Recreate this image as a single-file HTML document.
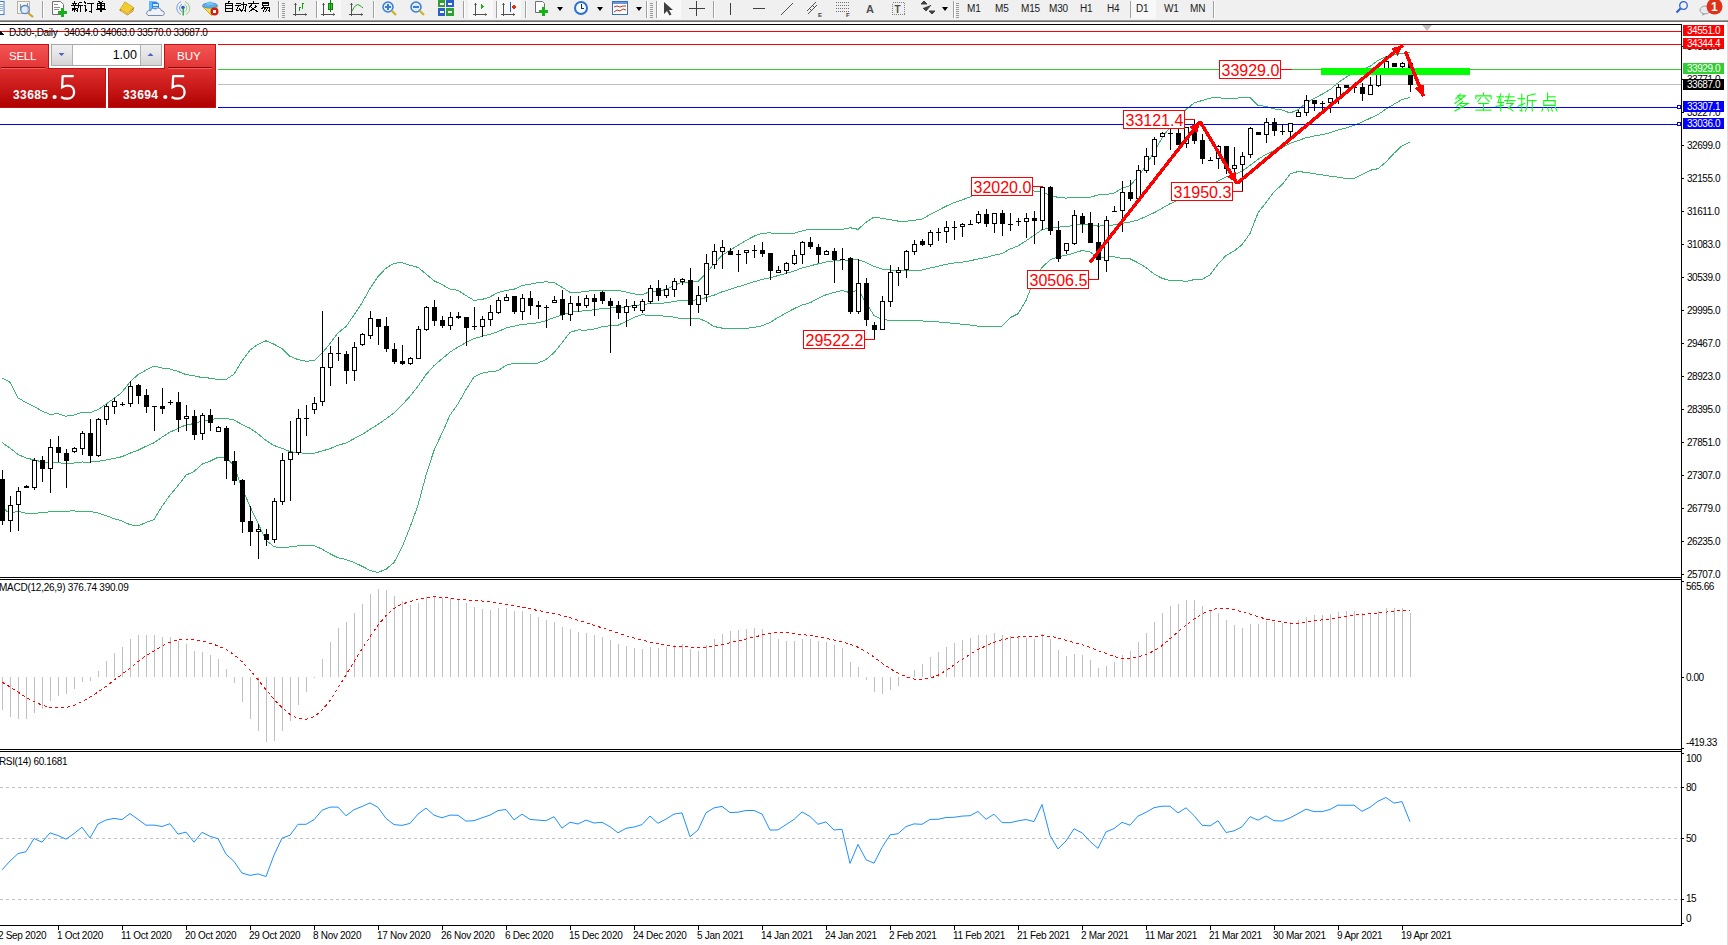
<!DOCTYPE html>
<html><head><meta charset="utf-8"><title>DJ30 Daily</title>
<style>
html,body{margin:0;padding:0;background:#fff;}
body{width:1728px;height:945px;overflow:hidden;position:relative;font-family:"Liberation Sans", sans-serif;}
svg{position:absolute;left:0;top:0;}
.t{font-family:"Liberation Sans", sans-serif;}
</style></head><body>
<svg width="1728" height="945" viewBox="0 0 1728 945" shape-rendering="crispEdges">

<rect x="0" y="0" width="1728" height="20" fill="#f0f0f0"/>
<rect x="0" y="20" width="1728" height="1" fill="#9a9a9a"/>
<rect x="0" y="21" width="1728" height="1" fill="#6e6e6e"/>
<rect x="-3" y="1.5" width="7" height="13" fill="#fff" stroke="#3a7bd5" stroke-width="1" shape-rendering="auto"/><g fill="#8fb0e8"><rect x="0" y="4" width="3" height="1"/><rect x="0" y="6" width="3" height="1"/><rect x="0" y="8" width="3" height="1"/><rect x="0" y="10" width="3" height="1"/></g><rect x="17.5" y="1.5" width="12" height="12" fill="#f4f4f0" stroke="#b8b0a0" shape-rendering="auto"/><path d="M20 4v7M27 3v8M21 6h6" stroke="#909090" fill="none"/><circle cx="25" cy="9.5" r="4.2" fill="#d8e8f8" fill-opacity="0.7" stroke="#5a8ad8" stroke-width="1.2" shape-rendering="auto"/><path d="M28 13l5 4" stroke="#d0a020" stroke-width="2.2" shape-rendering="auto"/><rect x="42" y="1" width="1" height="17" fill="#a0a0a0"/><rect x="43" y="1" width="1" height="17" fill="#ffffff"/><path d="M52.5 1.5h8l3 3v10h-11z" fill="#fff" stroke="#707070" shape-rendering="auto"/><g fill="#909090"><rect x="54" y="4" width="4" height="1"/><rect x="54" y="7" width="6" height="1"/><rect x="54" y="9" width="5" height="1"/></g><path d="M58 12h9M62.5 8v9" stroke="#18b018" stroke-width="3"/><g fill="none" stroke="#000" stroke-width="1.82" stroke-linecap="square" stroke-linejoin="miter" shape-rendering="crispEdges"><g transform="translate(71.50,1.50) scale(0.550)"><polyline points="5,0 5,2"/><polyline points="1,3 9,3"/><polyline points="3,4 4,7"/><polyline points="7,4 6,7"/><polyline points="0,8 10,8"/><polyline points="1,12 9,12"/><polyline points="5,8 5,19"/><polyline points="4,13 1,17"/><polyline points="6,13 9,16"/><polyline points="19,1 12,3 12,11 11,19"/><polyline points="12,8 20,8"/><polyline points="16,8 16,19"/></g><g transform="translate(83.50,1.50) scale(0.550)"><polyline points="2,1 4,3"/><polyline points="1,7 4,7 4,17 6,15"/><polyline points="8,3 19,3"/><polyline points="14,3 14,19 12,18"/></g><g transform="translate(95.50,1.50) scale(0.550)"><polyline points="6,0 8,2"/><polyline points="13,0 11,2"/><polyline points="4,4 16,4 16,12 4,12 4,4"/><polyline points="4,8 16,8"/><polyline points="10,4 10,19"/><polyline points="1,15 19,15"/></g></g><path d="M119.5 9.5L125 1.5 134 7.5 133.5 11 127.5 15.5 119.5 10.5z" fill="#b88018" shape-rendering="auto"/><path d="M120 9L125.2 2 133.5 7.6 127.8 13.5z" fill="#f0cc30" shape-rendering="auto"/><path d="M121 10.5l6.5 3.8 6-4.6" stroke="#f8e8a0" stroke-width="0.8" fill="none" shape-rendering="auto"/><path d="M149 1.5h7l3 2v7h-10z" fill="#2a8ae8" shape-rendering="auto"/><rect x="149" y="1" width="3" height="9" fill="#60b8ff"/><rect x="153" y="4" width="5" height="1.5" fill="#d8ecff"/><rect x="153" y="6.5" width="5" height="1" fill="#a8d0ff"/><path d="M148 15.5h14.5a2.3 2.3 0 0 0 -1-4.5a3.5 3.5 0 0 0 -6.2-1.8a2.6 2.6 0 0 0 -4.6 1.6a2.4 2.4 0 0 0 -2.7 4.7z" fill="#eef2fa" stroke="#6a7ca0" stroke-width="0.9" shape-rendering="auto"/><path d="M181 1.6A7 7 0 0 0 181 14.4M182 4.2A4.2 4.2 0 0 0 182 11.8" stroke="#7aa0e0" stroke-width="1" fill="none" shape-rendering="auto"/><path d="M185 1.6A7 7 0 0 1 186 14.4M184.5 4.2A4.2 4.2 0 0 1 184.5 11.8" stroke="#90c890" stroke-width="1" fill="none" shape-rendering="auto"/><circle cx="183" cy="7.5" r="1.8" fill="#2a5ad0" shape-rendering="auto"/><path d="M183.2 8v7.5" stroke="#20a020" stroke-width="1.3" fill="none" shape-rendering="auto"/><path d="M202.5 6.5h15l-6 9z" fill="#f4dc50" stroke="#c8a828" shape-rendering="auto"/><ellipse cx="210" cy="5.5" rx="7.5" ry="2.6" fill="#5ab0e8" stroke="#3a88c8" stroke-width="0.8" shape-rendering="auto"/><path d="M206.5 5a3.5 3.5 0 0 1 7 0z" fill="#78c4f0" shape-rendering="auto"/><circle cx="214.5" cy="11.5" r="4" fill="#d02010" shape-rendering="auto"/><rect x="213" y="10" width="3" height="3" fill="#fff"/><g fill="none" stroke="#000" stroke-width="1.82" stroke-linecap="square" stroke-linejoin="miter" shape-rendering="crispEdges"><g transform="translate(223.50,1.50) scale(0.550)"><polyline points="10,0 8,3"/><polyline points="4,3 16,3 16,19 4,19 4,3"/><polyline points="4,8 16,8"/><polyline points="4,13 16,13"/></g><g transform="translate(235.70,1.50) scale(0.550)"><polyline points="2,3 8,3"/><polyline points="0,8 9,8"/><polyline points="5,8 1,16 9,15"/><polyline points="7,12 9,17"/><polyline points="11,6 19,6 18,18 16,17"/><polyline points="15,1 14,12 10,19"/></g><g transform="translate(247.90,1.50) scale(0.550)"><polyline points="10,0 10,2"/><polyline points="1,4 19,4"/><polyline points="7,6 3,10"/><polyline points="13,6 17,10"/><polyline points="14,10 2,19"/><polyline points="6,11 18,19"/></g><g transform="translate(260.10,1.50) scale(0.550)"><polyline points="5,1 15,1 15,8 5,8 5,1"/><polyline points="5,4.5 15,4.5"/><polyline points="6,10 3,13"/><polyline points="6,11 18,11 17,18 15,17"/><polyline points="10,11 6,17"/><polyline points="14,11 10,18"/></g></g><rect x="278" y="1" width="1" height="17" fill="#a0a0a0"/><rect x="279" y="1" width="1" height="17" fill="#ffffff"/><rect x="282" y="3" width="3" height="1" fill="#9a9a9a"/><rect x="282" y="5" width="3" height="1" fill="#9a9a9a"/><rect x="282" y="7" width="3" height="1" fill="#9a9a9a"/><rect x="282" y="9" width="3" height="1" fill="#9a9a9a"/><rect x="282" y="11" width="3" height="1" fill="#9a9a9a"/><rect x="282" y="13" width="3" height="1" fill="#9a9a9a"/><rect x="282" y="15" width="3" height="1" fill="#9a9a9a"/><rect x="282" y="17" width="3" height="1" fill="#9a9a9a"/><g fill="#505050"><rect x="295" y="3" width="1" height="13"/><rect x="293" y="14" width="14" height="1"/><path d="M294 5l1.5-2 1.5 2z M305 13l2 1.5-2 1.5z" shape-rendering="auto"/></g><path d="M299 11v-4h2M302 9V3h2" stroke="#10a010" fill="none"/><rect x="316" y="1" width="1" height="17" fill="#a0a0a0"/><rect x="317" y="1" width="1" height="17" fill="#ffffff"/><rect x="318" y="0" width="23" height="19" fill="#f8f8f8"/><g fill="#505050"><rect x="323" y="3" width="1" height="13"/><rect x="321" y="14" width="14" height="1"/><path d="M322 5l1.5-2 1.5 2z M333 13l2 1.5-2 1.5z" shape-rendering="auto"/></g><rect x="328.5" y="3.5" width="4" height="6" fill="#30d030" stroke="#108010"/><rect x="330" y="0" width="1" height="12" fill="#108010"/><g fill="#505050"><rect x="351" y="3" width="1" height="13"/><rect x="349" y="14" width="14" height="1"/><path d="M350 5l1.5-2 1.5 2z M361 13l2 1.5-2 1.5z" shape-rendering="auto"/></g><path d="M352 11q4-8 7-6t4 3" stroke="#20a020" fill="none" shape-rendering="auto"/><rect x="373" y="1" width="1" height="17" fill="#a0a0a0"/><rect x="374" y="1" width="1" height="17" fill="#ffffff"/><circle cx="388" cy="7" r="5" fill="#e0eeff" stroke="#3a7bd5" stroke-width="1.5" shape-rendering="auto"/><path d="M391.5 10.5l4.5 4.5" stroke="#d0b020" stroke-width="2.2" shape-rendering="auto"/><rect x="385" y="6" width="6" height="2" fill="#3a7bd5"/><rect x="387" y="4" width="2" height="6" fill="#3a7bd5"/><circle cx="416" cy="7" r="5" fill="#e0eeff" stroke="#3a7bd5" stroke-width="1.5" shape-rendering="auto"/><path d="M419.5 10.5l4.5 4.5" stroke="#d0b020" stroke-width="2.2" shape-rendering="auto"/><rect x="413" y="6" width="6" height="2" fill="#3a7bd5"/><rect x="438" y="0" width="7" height="7" fill="#30a030"/><rect x="446" y="0" width="8" height="7" fill="#2a60c8"/><rect x="438" y="8" width="7" height="8" fill="#2a60c8"/><rect x="446" y="8" width="8" height="8" fill="#30a030"/><g fill="#fff"><rect x="440" y="3" width="4" height="2"/><rect x="448" y="3" width="4" height="2"/><rect x="440" y="11" width="4" height="2"/><rect x="448" y="11" width="4" height="2"/></g><rect x="463" y="1" width="1" height="17" fill="#a0a0a0"/><rect x="464" y="1" width="1" height="17" fill="#ffffff"/><rect x="468" y="0" width="25" height="19" fill="#f8f8f8"/><g fill="#505050"><rect x="475" y="3" width="1" height="13"/><rect x="473" y="14" width="14" height="1"/><path d="M474 5l1.5-2 1.5 2z M485 13l2 1.5-2 1.5z" shape-rendering="auto"/></g><path d="M481 4v5l3.5-2.5z" fill="#20b020"/><rect x="496" y="1" width="1" height="17" fill="#a0a0a0"/><rect x="497" y="1" width="1" height="17" fill="#ffffff"/><rect x="498" y="0" width="23" height="19" fill="#f8f8f8"/><g fill="#505050"><rect x="503" y="3" width="1" height="13"/><rect x="501" y="14" width="14" height="1"/><path d="M502 5l1.5-2 1.5 2z M513 13l2 1.5-2 1.5z" shape-rendering="auto"/></g><rect x="510" y="2" width="1" height="10" fill="#2060c0"/><path d="M511 7l4-2.5v5z" fill="#e03010"/><rect x="513" y="6" width="3" height="2" fill="#e03010"/><rect x="525" y="1" width="1" height="17" fill="#a0a0a0"/><rect x="526" y="1" width="1" height="17" fill="#ffffff"/><path d="M535.5 1.5h7l2 2v9h-9z" fill="#fff" stroke="#707070" shape-rendering="auto"/><path d="M539 11.5h9M543.5 7v9" stroke="#18b018" stroke-width="3"/><path d="M557 7h6l-3 4z" fill="#000" shape-rendering="auto"/><circle cx="581" cy="8" r="7" fill="#2a70d0" shape-rendering="auto"/><circle cx="581" cy="8" r="5" fill="#f4f8ff" shape-rendering="auto"/><path d="M581 4v4h3" stroke="#203040" fill="none"/><path d="M597 7h6l-3 4z" fill="#000" shape-rendering="auto"/><rect x="612.5" y="1.5" width="15" height="13" fill="#fff" stroke="#3a70c0" shape-rendering="auto"/><rect x="613" y="2" width="14" height="2" fill="#6a98d8"/><path d="M614 7l3-1 3 1 3-1 3 0M614 12l3-2 3 1 3-2 3 1" stroke="#c03020" fill="none" shape-rendering="auto"/><path d="M636 7h6l-3 4z" fill="#000" shape-rendering="auto"/><rect x="646" y="1" width="1" height="17" fill="#a0a0a0"/><rect x="647" y="1" width="1" height="17" fill="#ffffff"/><rect x="650" y="3" width="3" height="1" fill="#9a9a9a"/><rect x="650" y="5" width="3" height="1" fill="#9a9a9a"/><rect x="650" y="7" width="3" height="1" fill="#9a9a9a"/><rect x="650" y="9" width="3" height="1" fill="#9a9a9a"/><rect x="650" y="11" width="3" height="1" fill="#9a9a9a"/><rect x="650" y="13" width="3" height="1" fill="#9a9a9a"/><rect x="650" y="15" width="3" height="1" fill="#9a9a9a"/><rect x="650" y="17" width="3" height="1" fill="#9a9a9a"/><rect x="656" y="1" width="1" height="17" fill="#a0a0a0"/><rect x="657" y="1" width="1" height="17" fill="#ffffff"/><rect x="658" y="0" width="23" height="19" fill="#f8f8f8"/><path d="M664 2v12l3-3 2.5 4.5 2-1-2.5-4.5h4z" fill="#404040" shape-rendering="auto"/><path d="M689 8.5h16M696.5 1v15" stroke="#404040" fill="none"/><rect x="713" y="1" width="1" height="17" fill="#a0a0a0"/><rect x="714" y="1" width="1" height="17" fill="#ffffff"/><rect x="730" y="3" width="1" height="12" fill="#404040"/><rect x="753" y="8" width="12" height="1" fill="#404040"/><path d="M781 15l12-12" stroke="#505050" shape-rendering="auto"/><path d="M807 11l9-9M808 14l9-9M810 9l2 2M813 6l2 2" stroke="#505050" shape-rendering="auto"/><text x="818" y="17" font-family='"Liberation Sans", sans-serif' font-size="6" font-weight="bold" fill="#404040">E</text><g fill="#707070"><rect x="836" y="2" width="1" height="1"/><rect x="838" y="2" width="1" height="1"/><rect x="840" y="2" width="1" height="1"/><rect x="842" y="2" width="1" height="1"/><rect x="844" y="2" width="1" height="1"/><rect x="846" y="2" width="1" height="1"/><rect x="848" y="2" width="1" height="1"/><rect x="836" y="5" width="1" height="1"/><rect x="838" y="5" width="1" height="1"/><rect x="840" y="5" width="1" height="1"/><rect x="842" y="5" width="1" height="1"/><rect x="844" y="5" width="1" height="1"/><rect x="846" y="5" width="1" height="1"/><rect x="848" y="5" width="1" height="1"/><rect x="836" y="8" width="1" height="1"/><rect x="838" y="8" width="1" height="1"/><rect x="840" y="8" width="1" height="1"/><rect x="842" y="8" width="1" height="1"/><rect x="844" y="8" width="1" height="1"/><rect x="846" y="8" width="1" height="1"/><rect x="848" y="8" width="1" height="1"/><rect x="836" y="11" width="1" height="1"/><rect x="838" y="11" width="1" height="1"/><rect x="840" y="11" width="1" height="1"/><rect x="842" y="11" width="1" height="1"/><rect x="844" y="11" width="1" height="1"/><rect x="846" y="11" width="1" height="1"/><rect x="848" y="11" width="1" height="1"/></g><text x="846" y="17" font-family='"Liberation Sans", sans-serif' font-size="6" font-weight="bold" fill="#404040">F</text><text x="866" y="13" font-family='"Liberation Sans", sans-serif' font-size="11" font-weight="bold" fill="#505050">A</text><rect x="892.5" y="2.5" width="12" height="12" fill="none" stroke="#808080" stroke-dasharray="1,1"/><text x="894.5" y="12.5" font-family='"Liberation Sans", sans-serif' font-size="10" font-weight="bold" fill="#505050">T</text><path d="M921 4l3-3 3 3zM929 11l3 3 3-3zM923 8l3 3 5-6" fill="#404040" stroke="#404040" shape-rendering="auto"/><path d="M942 7h6l-3 4z" fill="#000" shape-rendering="auto"/><rect x="953" y="1" width="1" height="17" fill="#a0a0a0"/><rect x="954" y="1" width="1" height="17" fill="#ffffff"/><rect x="956" y="3" width="3" height="1" fill="#9a9a9a"/><rect x="956" y="5" width="3" height="1" fill="#9a9a9a"/><rect x="956" y="7" width="3" height="1" fill="#9a9a9a"/><rect x="956" y="9" width="3" height="1" fill="#9a9a9a"/><rect x="956" y="11" width="3" height="1" fill="#9a9a9a"/><rect x="956" y="13" width="3" height="1" fill="#9a9a9a"/><rect x="956" y="15" width="3" height="1" fill="#9a9a9a"/><rect x="956" y="17" width="3" height="1" fill="#9a9a9a"/><text x="967" y="12" font-family='"Liberation Sans", sans-serif' font-size="10" fill="#202020" letter-spacing="-0.2">M1</text><text x="995" y="12" font-family='"Liberation Sans", sans-serif' font-size="10" fill="#202020" letter-spacing="-0.2">M5</text><text x="1021" y="12" font-family='"Liberation Sans", sans-serif' font-size="10" fill="#202020" letter-spacing="-0.2">M15</text><text x="1049" y="12" font-family='"Liberation Sans", sans-serif' font-size="10" fill="#202020" letter-spacing="-0.2">M30</text><text x="1080" y="12" font-family='"Liberation Sans", sans-serif' font-size="10" fill="#202020" letter-spacing="-0.2">H1</text><text x="1107" y="12" font-family='"Liberation Sans", sans-serif' font-size="10" fill="#202020" letter-spacing="-0.2">H4</text><rect x="1131" y="0" width="25" height="19" fill="#f8f8f8"/><rect x="1130" y="1" width="1" height="17" fill="#a0a0a0"/><text x="1136" y="12" font-family='"Liberation Sans", sans-serif' font-size="10" fill="#202020" letter-spacing="-0.2">D1</text><text x="1164" y="12" font-family='"Liberation Sans", sans-serif' font-size="10" fill="#202020" letter-spacing="-0.2">W1</text><text x="1190" y="12" font-family='"Liberation Sans", sans-serif' font-size="10" fill="#202020" letter-spacing="-0.2">MN</text><rect x="1213" y="1" width="1" height="17" fill="#a0a0a0"/><rect x="1214" y="1" width="1" height="17" fill="#ffffff"/><circle cx="1683.5" cy="5.5" r="3.8" fill="none" stroke="#2a62d0" stroke-width="1.3" shape-rendering="auto"/><path d="M1680.5 8.5l-4 4" stroke="#2a62d0" stroke-width="2.2" shape-rendering="auto"/><ellipse cx="1705" cy="10" rx="5" ry="4" fill="#e8e8f0" stroke="#a0a0a0" shape-rendering="auto"/><path d="M1703 13l-1 3 3-2z" fill="#a0a0a0" shape-rendering="auto"/><circle cx="1714.5" cy="6.5" r="8" fill="#e03018" shape-rendering="auto"/><text x="1711" y="11" font-family='"Liberation Sans", sans-serif' font-size="12" font-weight="bold" fill="#fff">1</text>
<g fill="#000">
<rect x="0" y="24" width="1682" height="1"/>
<rect x="1681" y="24" width="1" height="902"/>
<rect x="0" y="577" width="1682" height="1"/>
<rect x="0" y="579" width="1682" height="1"/>
<rect x="0" y="749" width="1682" height="1"/>
<rect x="0" y="751" width="1682" height="1"/>
<rect x="0" y="925" width="1682" height="1"/>
</g>
<rect x="1727" y="22" width="1" height="923" fill="#dedede"/>
<path d="M1422 25h10l-5 6z" fill="#c0c0c0" shape-rendering="auto"/>
<polyline points="2,378.1 10,382.2 18,397.8 26,402.6 34,406.5 42,411.0 50,414.4 58,413.6 66,416.2 74,415.1 82,412.4 90,412.6 98,409.7 106,404.2 114,398.3 122,392.3 130,381.8 138,374.6 146,370.2 154,366.1 162,368.1 170,369.0 178,371.4 186,374.6 194,375.7 202,377.6 210,378.1 218,379.5 226,379.5 234,374.2 242,360.8 250,350.1 258,344.3 266,340.8 274,344.2 282,348.7 290,356.3 298,359.6 306,361.2 314,360.7 322,353.1 330,343.6 338,332.9 346,326.6 354,315.0 362,303.0 370,288.4 378,276.4 386,268.3 394,263.2 402,262.6 410,265.2 418,267.4 426,273.9 434,280.8 442,284.5 450,289.2 458,290.3 466,295.6 474,300.4 482,299.5 490,296.9 498,292.5 506,290.5 514,289.2 522,285.6 530,284.2 538,282.6 546,281.8 554,282.6 562,287.3 570,292.3 578,292.5 586,291.3 594,290.6 602,290.4 610,290.2 618,290.4 626,291.9 634,293.9 642,294.6 650,291.8 658,291.1 666,289.5 674,285.6 682,282.0 690,282.0 698,281.5 706,273.7 714,263.9 722,255.6 730,250.1 738,245.4 746,240.4 754,236.2 762,233.2 770,232.9 778,233.7 786,233.7 794,233.2 802,231.0 810,229.1 818,229.4 826,229.1 834,229.3 842,229.4 850,227.7 858,229.3 866,222.4 874,217.1 882,218.4 890,219.7 898,221.1 906,221.2 914,220.3 922,219.2 930,214.6 938,210.5 946,206.2 954,202.6 962,200.0 970,196.9 978,191.7 986,188.7 994,183.7 1002,180.7 1010,180.4 1018,178.1 1026,181.1 1034,191.2 1042,192.0 1050,195.3 1058,197.4 1066,198.1 1074,197.4 1082,197.9 1090,197.4 1098,194.9 1106,194.5 1114,193.1 1122,188.4 1130,185.6 1138,177.0 1146,165.5 1154,151.7 1162,138.3 1170,127.0 1178,119.5 1186,109.5 1194,103.1 1202,100.5 1210,98.1 1218,97.5 1226,98.8 1234,98.2 1242,97.8 1250,97.6 1258,105.6 1266,106.3 1274,108.9 1282,109.9 1290,113.0 1298,109.8 1306,103.2 1314,98.4 1322,94.3 1330,89.6 1338,82.8 1346,77.3 1354,72.0 1362,69.4 1370,66.4 1378,60.4 1386,56.4 1394,55.1 1402,53.4 1410,52.8" fill="none" stroke="#3cb371" stroke-width="1"/>
<polyline points="2,442.5 10,448.1 18,454.4 26,458.0 34,459.8 42,461.9 50,463.0 58,462.5 66,463.7 74,463.0 82,462.0 90,462.1 98,461.3 106,460.0 114,458.4 122,456.7 130,453.2 138,450.3 146,446.3 154,442.8 162,437.2 170,432.1 178,428.5 186,424.9 194,423.6 202,420.9 210,419.7 218,418.4 226,418.4 234,420.0 242,424.4 250,428.3 258,433.8 266,440.5 274,445.5 282,448.3 290,451.6 298,452.7 306,453.3 314,453.2 322,451.1 330,448.6 338,445.3 346,443.0 354,438.7 362,434.6 370,429.4 378,424.4 386,418.8 394,412.9 402,405.0 410,396.3 418,386.3 426,374.6 434,365.6 442,358.9 450,352.1 458,347.1 466,342.6 474,338.7 482,336.3 490,334.3 498,331.6 506,328.0 514,326.2 522,324.4 530,323.8 538,322.8 546,320.7 554,317.6 562,315.1 570,312.4 578,311.2 586,310.8 594,309.8 602,308.6 610,308.0 618,307.8 626,306.7 634,305.6 642,304.7 650,303.5 658,303.3 666,302.9 674,301.4 682,300.4 690,300.4 698,299.8 706,297.6 714,295.2 722,291.8 730,289.4 738,286.8 746,284.4 754,281.8 762,279.5 770,277.7 778,275.6 786,273.4 794,271.0 802,268.0 810,265.9 818,263.9 826,262.0 834,260.9 842,259.9 850,260.2 858,259.6 866,262.4 874,266.4 882,269.0 890,269.9 898,270.7 906,270.8 914,270.5 922,270.0 930,268.1 938,266.2 946,264.4 954,263.0 962,262.1 970,260.9 978,258.9 986,257.5 994,255.2 1002,253.5 1010,249.1 1018,245.9 1026,240.9 1034,235.4 1042,229.7 1050,227.6 1058,227.1 1066,226.7 1074,225.3 1082,224.2 1090,224.7 1098,226.1 1106,225.7 1114,224.9 1122,223.4 1130,222.1 1138,219.9 1146,216.5 1154,212.8 1162,208.3 1170,203.8 1178,200.0 1186,195.4 1194,191.4 1202,190.0 1210,186.5 1218,180.8 1226,177.1 1234,174.6 1242,171.2 1250,165.5 1258,159.3 1266,154.4 1274,150.4 1282,147.3 1290,143.5 1298,140.6 1306,137.8 1314,136.1 1322,134.6 1330,132.8 1338,130.0 1346,128.0 1354,125.3 1362,122.1 1370,118.3 1378,114.5 1386,109.1 1394,104.2 1402,99.6 1410,97.4" fill="none" stroke="#3cb371" stroke-width="1"/>
<polyline points="2,507.0 10,514.0 18,511.0 26,513.4 34,513.1 42,512.9 50,511.7 58,511.3 66,511.1 74,510.9 82,511.5 90,511.5 98,512.9 106,515.7 114,518.6 122,521.0 130,524.7 138,526.0 146,522.5 154,519.5 162,506.3 170,495.1 178,485.6 186,475.2 194,471.5 202,464.2 210,461.3 218,457.3 226,457.2 234,465.8 242,488.1 250,506.4 258,523.3 266,540.1 274,546.7 282,547.9 290,546.9 298,545.9 306,545.5 314,545.6 322,549.1 330,553.7 338,557.7 346,559.5 354,562.4 362,566.2 370,570.4 378,572.4 386,569.3 394,562.5 402,547.3 410,527.3 418,505.2 426,475.3 434,450.4 442,433.2 450,415.1 458,403.9 466,389.6 474,377.1 482,373.2 490,371.7 498,370.7 506,365.4 514,363.2 522,363.2 530,363.3 538,363.0 546,359.6 554,352.6 562,342.9 570,332.4 578,329.9 586,330.2 594,329.1 602,326.8 610,325.8 618,325.2 626,321.5 634,317.4 642,314.8 650,315.3 658,315.5 666,316.3 674,317.1 682,318.9 690,318.8 698,318.1 706,321.5 714,326.5 722,328.1 730,328.7 738,328.2 746,328.4 754,327.4 762,325.8 770,322.5 778,317.5 786,313.1 794,308.7 802,305.0 810,302.8 818,298.4 826,294.8 834,292.5 842,290.4 850,292.7 858,289.9 866,302.5 874,315.6 882,319.7 890,320.2 898,320.4 906,320.4 914,320.6 922,320.9 930,321.6 938,321.9 946,322.6 954,323.4 962,324.2 970,325.0 978,326.1 986,326.4 994,326.7 1002,326.2 1010,317.8 1018,313.8 1026,300.6 1034,279.7 1042,267.5 1050,259.9 1058,256.8 1066,255.3 1074,253.1 1082,250.5 1090,252.0 1098,257.3 1106,257.0 1114,256.8 1122,258.3 1130,258.7 1138,262.8 1146,267.5 1154,274.0 1162,278.3 1170,280.6 1178,280.5 1186,281.4 1194,279.7 1202,279.4 1210,274.8 1218,264.2 1226,255.5 1234,251.1 1242,244.7 1250,233.5 1258,212.9 1266,202.5 1274,191.8 1282,184.7 1290,174.1 1298,171.5 1306,172.4 1314,173.7 1322,174.8 1330,176.1 1338,177.1 1346,178.6 1354,178.6 1362,174.7 1370,170.3 1378,168.7 1386,161.9 1394,153.3 1402,145.8 1410,142.0" fill="none" stroke="#3cb371" stroke-width="1"/>
<rect x="0" y="31" width="1681" height="1" fill="#ff0000"/>
<rect x="0" y="44" width="1681" height="1" fill="#ff0000"/>
<rect x="0" y="69" width="1681" height="1" fill="#32cd32"/>
<rect x="0" y="84" width="1681" height="1" fill="#c0c0c0"/>
<rect x="0" y="107" width="1681" height="1" fill="#0000ff"/>
<rect x="0" y="124" width="1681" height="1" fill="#0000ff"/>
<rect x="1677.5" y="105.5" width="3" height="3" fill="#fff" stroke="#0000ff" stroke-width="1"/>
<rect x="1677.5" y="122.5" width="3" height="3" fill="#fff" stroke="#0000ff" stroke-width="1"/>
<path d="M2 470h1v9h-1zM2 521h1v4h-1zM0 479h5v42h-5zM10 496h1v9h-1zM10 521h1v11h-1zM8 505h5v16h-5zM18 487h1v4h-1zM18 505h1v26h-1zM16 491h5v14h-5zM26 485h1v1h-1zM24 486h5v2h-5zM34 458h1v2h-1zM34 488h1v2h-1zM32 460h5v28h-5zM42 456h1v4h-1zM42 469h1v13h-1zM40 460h5v9h-5zM50 439h1v8h-1zM50 469h1v24h-1zM48 447h5v22h-5zM58 436h1v11h-1zM58 453h1v9h-1zM56 447h5v6h-5zM66 449h1v4h-1zM66 461h1v27h-1zM64 453h5v8h-5zM74 447h1v1h-1zM74 452h1v1h-1zM72 448h5v4h-5zM82 431h1v2h-1zM82 449h1v6h-1zM80 433h5v16h-5zM90 419h1v14h-1zM90 456h1v7h-1zM88 433h5v23h-5zM98 418h1v1h-1zM98 456h1v1h-1zM96 419h5v37h-5zM106 404h1v2h-1zM106 420h1v5h-1zM104 406h5v14h-5zM114 398h1v3h-1zM114 407h1v7h-1zM112 401h5v6h-5zM122 402h1v2h-1zM122 405h1v1h-1zM120 404h5v1h-5zM130 381h1v5h-1zM130 404h1v3h-1zM128 386h5v18h-5zM138 384h1v1h-1zM138 396h1v8h-1zM136 385h5v11h-5zM146 389h1v6h-1zM146 407h1v6h-1zM144 395h5v12h-5zM154 407h1v24h-1zM152 406h5v1h-5zM162 388h1v18h-1zM162 409h1v5h-1zM160 406h5v3h-5zM170 400h1v2h-1zM170 403h1v2h-1zM168 402h5v1h-5zM178 392h1v10h-1zM178 420h1v12h-1zM176 402h5v18h-5zM186 405h1v11h-1zM186 419h1v12h-1zM184 416h5v3h-5zM194 410h1v6h-1zM194 435h1v5h-1zM192 416h5v19h-5zM202 413h1v2h-1zM202 434h1v6h-1zM200 415h5v19h-5zM210 409h1v6h-1zM210 423h1v8h-1zM208 415h5v8h-5zM218 426h1v1h-1zM216 427h5v5h-5zM226 426h1v2h-1zM226 461h1v18h-1zM224 428h5v33h-5zM234 451h1v10h-1zM234 481h1v4h-1zM232 461h5v20h-5zM242 479h1v1h-1zM242 522h1v11h-1zM240 480h5v42h-5zM250 506h1v15h-1zM250 532h1v14h-1zM248 521h5v11h-5zM258 524h1v5h-1zM258 532h1v27h-1zM256 529h5v3h-5zM266 529h1v5h-1zM266 540h1v6h-1zM264 534h5v6h-5zM274 498h1v3h-1zM274 540h1v3h-1zM272 501h5v39h-5zM282 453h1v7h-1zM282 502h1v3h-1zM280 460h5v42h-5zM290 421h1v31h-1zM290 460h1v41h-1zM288 452h5v8h-5zM298 409h1v9h-1zM298 453h1v2h-1zM296 418h5v35h-5zM306 405h1v13h-1zM306 419h1v17h-1zM304 418h5v1h-5zM314 397h1v6h-1zM314 410h1v4h-1zM312 403h5v7h-5zM322 311h1v56h-1zM322 402h1v4h-1zM320 367h5v35h-5zM330 346h1v7h-1zM330 368h1v18h-1zM328 353h5v15h-5zM338 337h1v16h-1zM338 354h1v7h-1zM336 353h5v1h-5zM346 351h1v3h-1zM346 371h1v13h-1zM344 354h5v17h-5zM354 342h1v5h-1zM354 371h1v10h-1zM352 347h5v24h-5zM362 333h1v1h-1zM362 345h1v1h-1zM360 334h5v11h-5zM370 311h1v7h-1zM370 336h1v3h-1zM368 318h5v18h-5zM378 327h1v18h-1zM376 319h5v8h-5zM386 317h1v9h-1zM386 349h1v3h-1zM384 326h5v23h-5zM394 343h1v6h-1zM394 362h1v2h-1zM392 349h5v13h-5zM402 345h1v16h-1zM402 364h1v1h-1zM400 361h5v3h-5zM410 357h1v1h-1zM410 364h1v1h-1zM408 358h5v6h-5zM418 326h1v3h-1zM416 329h5v30h-5zM426 306h1v1h-1zM426 330h1v1h-1zM424 307h5v23h-5zM434 300h1v7h-1zM434 321h1v5h-1zM432 307h5v14h-5zM442 316h1v4h-1zM442 326h1v2h-1zM440 320h5v6h-5zM450 312h1v5h-1zM450 326h1v4h-1zM448 317h5v9h-5zM458 312h1v4h-1zM458 318h1v1h-1zM456 316h5v2h-5zM466 328h1v18h-1zM464 317h5v11h-5zM474 307h1v19h-1zM474 327h1v3h-1zM472 326h5v1h-5zM482 316h1v3h-1zM482 327h1v10h-1zM480 319h5v8h-5zM490 305h1v7h-1zM490 320h1v6h-1zM488 312h5v8h-5zM498 297h1v3h-1zM498 313h1v1h-1zM496 300h5v13h-5zM506 294h1v3h-1zM504 297h5v4h-5zM514 312h1v2h-1zM512 296h5v16h-5zM522 294h1v4h-1zM522 312h1v8h-1zM520 298h5v14h-5zM530 291h1v7h-1zM530 306h1v9h-1zM528 298h5v8h-5zM538 301h1v4h-1zM538 307h1v12h-1zM536 305h5v2h-5zM546 305h1v2h-1zM546 308h1v20h-1zM544 307h5v1h-5zM554 296h1v4h-1zM552 300h5v3h-5zM562 290h1v9h-1zM562 315h1v5h-1zM560 299h5v16h-5zM570 296h1v7h-1zM570 315h1v6h-1zM568 303h5v12h-5zM578 296h1v7h-1zM578 306h1v6h-1zM576 303h5v3h-5zM586 295h1v3h-1zM586 306h1v2h-1zM584 298h5v8h-5zM594 294h1v4h-1zM594 302h1v14h-1zM592 298h5v4h-5zM602 291h1v1h-1zM602 301h1v3h-1zM600 292h5v9h-5zM610 298h1v3h-1zM610 306h1v47h-1zM608 301h5v5h-5zM618 301h1v4h-1zM618 313h1v6h-1zM616 305h5v8h-5zM626 299h1v7h-1zM626 313h1v14h-1zM624 306h5v7h-5zM634 301h1v4h-1zM634 308h1v3h-1zM632 305h5v3h-5zM642 299h1v2h-1zM642 311h1v2h-1zM640 301h5v10h-5zM650 285h1v3h-1zM650 302h1v2h-1zM648 288h5v14h-5zM658 280h1v8h-1zM658 296h1v5h-1zM656 288h5v8h-5zM666 285h1v4h-1zM666 296h1v2h-1zM664 289h5v7h-5zM674 278h1v3h-1zM674 290h1v7h-1zM672 281h5v9h-5zM682 278h1v1h-1zM682 282h1v3h-1zM680 279h5v3h-5zM690 268h1v12h-1zM690 305h1v21h-1zM688 280h5v25h-5zM698 286h1v9h-1zM698 305h1v8h-1zM696 295h5v10h-5zM706 254h1v9h-1zM706 295h1v7h-1zM704 263h5v32h-5zM714 244h1v7h-1zM714 265h1v4h-1zM712 251h5v14h-5zM722 240h1v7h-1zM722 252h1v17h-1zM720 247h5v5h-5zM730 248h1v3h-1zM728 251h5v4h-5zM738 250h1v4h-1zM738 255h1v17h-1zM736 254h5v1h-5zM746 253h1v11h-1zM744 250h5v3h-5zM754 245h1v5h-1zM754 251h1v7h-1zM752 250h5v1h-5zM762 242h1v8h-1zM762 254h1v3h-1zM760 250h5v4h-5zM770 271h1v9h-1zM768 253h5v18h-5zM778 266h1v4h-1zM776 270h5v3h-5zM786 262h1v1h-1zM786 271h1v3h-1zM784 263h5v8h-5zM794 250h1v5h-1zM794 264h1v1h-1zM792 255h5v9h-5zM802 241h1v1h-1zM802 255h1v9h-1zM800 242h5v13h-5zM810 237h1v5h-1zM810 247h1v2h-1zM808 242h5v5h-5zM818 244h1v3h-1zM818 255h1v8h-1zM816 247h5v8h-5zM826 250h1v1h-1zM824 251h5v4h-5zM834 248h1v3h-1zM834 260h1v23h-1zM832 251h5v9h-5zM842 248h1v11h-1zM842 260h1v10h-1zM840 259h5v1h-5zM850 257h1v1h-1zM850 312h1v2h-1zM848 258h5v54h-5zM858 259h1v24h-1zM858 312h1v2h-1zM856 283h5v29h-5zM866 278h1v5h-1zM866 320h1v6h-1zM864 283h5v37h-5zM874 322h1v3h-1zM874 330h1v9h-1zM872 325h5v5h-5zM882 296h1v5h-1zM880 301h5v29h-5zM890 265h1v7h-1zM890 302h1v5h-1zM888 272h5v30h-5zM898 267h1v3h-1zM898 273h1v13h-1zM896 270h5v3h-5zM906 250h1v1h-1zM906 270h1v8h-1zM904 251h5v19h-5zM914 240h1v4h-1zM914 252h1v3h-1zM912 244h5v8h-5zM922 239h1v2h-1zM922 245h1v1h-1zM920 241h5v4h-5zM930 230h1v2h-1zM930 245h1v2h-1zM928 232h5v13h-5zM938 228h1v4h-1zM938 233h1v8h-1zM936 232h5v1h-5zM946 221h1v6h-1zM946 232h1v11h-1zM944 227h5v5h-5zM954 221h1v6h-1zM954 228h1v12h-1zM952 227h5v1h-5zM962 223h1v1h-1zM962 227h1v10h-1zM960 224h5v3h-5zM970 220h1v4h-1zM968 224h5v1h-5zM978 211h1v3h-1zM978 223h1v1h-1zM976 214h5v9h-5zM986 209h1v5h-1zM986 224h1v3h-1zM984 214h5v10h-5zM994 224h1v9h-1zM992 213h5v11h-5zM1002 210h1v3h-1zM1002 224h1v12h-1zM1000 213h5v11h-5zM1010 213h1v11h-1zM1010 225h1v6h-1zM1008 224h5v1h-5zM1018 218h1v3h-1zM1018 222h1v4h-1zM1016 221h5v1h-5zM1026 213h1v5h-1zM1026 222h1v16h-1zM1024 218h5v4h-5zM1034 211h1v7h-1zM1034 221h1v23h-1zM1032 218h5v3h-5zM1042 221h1v9h-1zM1040 187h5v34h-5zM1050 186h1v1h-1zM1050 231h1v4h-1zM1048 187h5v44h-5zM1058 221h1v9h-1zM1058 259h1v3h-1zM1056 230h5v29h-5zM1066 251h1v3h-1zM1064 243h5v8h-5zM1074 210h1v5h-1zM1074 244h1v1h-1zM1072 215h5v29h-5zM1082 213h1v3h-1zM1082 224h1v9h-1zM1080 216h5v8h-5zM1090 212h1v11h-1zM1088 223h5v20h-5zM1098 223h1v19h-1zM1098 260h1v20h-1zM1096 242h5v18h-5zM1106 216h1v4h-1zM1106 261h1v11h-1zM1104 220h5v41h-5zM1114 206h1v5h-1zM1112 211h5v1h-5zM1122 181h1v11h-1zM1122 211h1v21h-1zM1120 192h5v19h-5zM1130 180h1v12h-1zM1130 199h1v2h-1zM1128 192h5v7h-5zM1138 165h1v5h-1zM1138 199h1v1h-1zM1136 170h5v29h-5zM1146 148h1v8h-1zM1146 171h1v2h-1zM1144 156h5v15h-5zM1154 137h1v2h-1zM1154 157h1v8h-1zM1152 139h5v18h-5zM1162 132h1v1h-1zM1160 133h5v4h-5zM1170 128h1v5h-1zM1170 134h1v16h-1zM1168 133h5v1h-5zM1178 128h1v5h-1zM1176 133h5v12h-5zM1186 144h1v4h-1zM1184 127h5v17h-5zM1194 119h1v11h-1zM1194 141h1v3h-1zM1192 130h5v11h-5zM1202 134h1v6h-1zM1202 159h1v5h-1zM1200 140h5v19h-5zM1210 157h1v3h-1zM1208 160h5v1h-5zM1218 145h1v1h-1zM1218 159h1v10h-1zM1216 146h5v13h-5zM1226 169h1v5h-1zM1224 146h5v23h-5zM1234 147h1v18h-1zM1234 169h1v3h-1zM1232 165h5v4h-5zM1242 152h1v4h-1zM1242 165h1v26h-1zM1240 156h5v9h-5zM1250 127h1v1h-1zM1250 155h1v3h-1zM1248 128h5v27h-5zM1256 132h5v3h-5zM1266 118h1v4h-1zM1266 135h1v8h-1zM1264 122h5v13h-5zM1274 118h1v4h-1zM1274 131h1v5h-1zM1272 122h5v9h-5zM1282 124h1v7h-1zM1282 132h1v3h-1zM1280 131h5v1h-5zM1290 132h1v5h-1zM1288 123h5v9h-5zM1298 110h1v2h-1zM1296 112h5v5h-5zM1306 95h1v5h-1zM1306 113h1v3h-1zM1304 100h5v13h-5zM1314 104h1v7h-1zM1312 100h5v4h-5zM1322 101h1v2h-1zM1322 104h1v7h-1zM1320 103h5v1h-5zM1330 103h1v10h-1zM1328 98h5v5h-5zM1338 84h1v3h-1zM1338 99h1v5h-1zM1336 87h5v12h-5zM1344 85h5v3h-5zM1354 85h1v2h-1zM1354 88h1v5h-1zM1352 87h5v1h-5zM1362 83h1v4h-1zM1362 94h1v7h-1zM1360 87h5v7h-5zM1370 77h1v8h-1zM1368 85h5v10h-5zM1378 70h1v1h-1zM1378 86h1v1h-1zM1376 71h5v15h-5zM1386 56h1v5h-1zM1386 71h1v1h-1zM1384 61h5v10h-5zM1392 63h5v4h-5zM1402 62h1v1h-1zM1402 67h1v1h-1zM1400 63h5v4h-5zM1410 61h1v2h-1zM1410 85h1v7h-1zM1408 63h5v22h-5z" fill="#000"/>
<path d="M9 506h3v14h-3zM17 492h3v12h-3zM33 461h3v26h-3zM49 448h3v20h-3zM73 449h3v2h-3zM81 434h3v14h-3zM97 420h3v35h-3zM105 407h3v12h-3zM113 402h3v4h-3zM129 387h3v16h-3zM185 417h3v1h-3zM201 416h3v17h-3zM217 428h3v3h-3zM257 530h3v1h-3zM273 502h3v37h-3zM281 461h3v40h-3zM289 453h3v6h-3zM297 419h3v33h-3zM313 404h3v5h-3zM321 368h3v33h-3zM329 354h3v13h-3zM353 348h3v22h-3zM361 335h3v9h-3zM369 319h3v16h-3zM409 359h3v4h-3zM417 330h3v28h-3zM425 308h3v21h-3zM449 318h3v7h-3zM481 320h3v6h-3zM489 313h3v6h-3zM497 301h3v11h-3zM505 298h3v2h-3zM521 299h3v12h-3zM553 301h3v1h-3zM569 304h3v10h-3zM585 299h3v6h-3zM625 307h3v5h-3zM633 306h3v1h-3zM641 302h3v8h-3zM649 289h3v12h-3zM665 290h3v5h-3zM673 282h3v7h-3zM681 280h3v1h-3zM697 296h3v8h-3zM705 264h3v30h-3zM713 252h3v12h-3zM721 248h3v3h-3zM745 251h3v1h-3zM777 271h3v1h-3zM785 264h3v6h-3zM793 256h3v7h-3zM801 243h3v11h-3zM825 252h3v2h-3zM857 284h3v27h-3zM881 302h3v27h-3zM889 273h3v28h-3zM897 271h3v1h-3zM905 252h3v17h-3zM913 245h3v6h-3zM929 233h3v11h-3zM945 228h3v3h-3zM961 225h3v1h-3zM977 215h3v7h-3zM993 214h3v9h-3zM1025 219h3v2h-3zM1041 188h3v32h-3zM1065 244h3v6h-3zM1073 216h3v27h-3zM1105 221h3v39h-3zM1121 193h3v17h-3zM1137 171h3v27h-3zM1145 157h3v13h-3zM1153 140h3v16h-3zM1161 134h3v2h-3zM1185 128h3v15h-3zM1217 147h3v11h-3zM1233 166h3v2h-3zM1241 157h3v7h-3zM1249 129h3v25h-3zM1265 123h3v11h-3zM1289 124h3v7h-3zM1297 113h3v3h-3zM1305 101h3v11h-3zM1329 99h3v3h-3zM1337 88h3v10h-3zM1369 86h3v8h-3zM1377 72h3v13h-3zM1385 62h3v8h-3zM1401 64h3v2h-3z" fill="#fff"/>
<g fill="#000">
<rect x="1682" y="46" width="2" height="1"/>
<rect x="1682" y="79" width="2" height="1"/>
<rect x="1682" y="112" width="2" height="1"/>
<rect x="1682" y="145" width="2" height="1"/>
<rect x="1682" y="178" width="2" height="1"/>
<rect x="1682" y="211" width="2" height="1"/>
<rect x="1682" y="244" width="2" height="1"/>
<rect x="1682" y="277" width="2" height="1"/>
<rect x="1682" y="310" width="2" height="1"/>
<rect x="1682" y="343" width="2" height="1"/>
<rect x="1682" y="376" width="2" height="1"/>
<rect x="1682" y="409" width="2" height="1"/>
<rect x="1682" y="442" width="2" height="1"/>
<rect x="1682" y="475" width="2" height="1"/>
<rect x="1682" y="508" width="2" height="1"/>
<rect x="1682" y="541" width="2" height="1"/>
<rect x="1682" y="574" width="2" height="1"/>
</g>
<g font-family='"Liberation Sans", sans-serif' font-size="10" fill="#000" letter-spacing="-0.45" shape-rendering="auto">
<text x="1687" y="50">34315.0</text>
<text x="1687" y="83">33771.0</text>
<text x="1687" y="116">33227.0</text>
<text x="1687" y="149">32699.0</text>
<text x="1687" y="182">32155.0</text>
<text x="1687" y="215">31611.0</text>
<text x="1687" y="248">31083.0</text>
<text x="1687" y="281">30539.0</text>
<text x="1687" y="314">29995.0</text>
<text x="1687" y="347">29467.0</text>
<text x="1687" y="380">28923.0</text>
<text x="1687" y="413">28395.0</text>
<text x="1687" y="446">27851.0</text>
<text x="1687" y="479">27307.0</text>
<text x="1687" y="512">26779.0</text>
<text x="1687" y="545">26235.0</text>
<text x="1687" y="578">25707.0</text>
</g>
<rect x="1683" y="25" width="41" height="11" fill="#ff0000"/>
<text x="1687" y="34" font-family='"Liberation Sans", sans-serif' font-size="10" fill="#fff" letter-spacing="-0.45" shape-rendering="auto">34551.0</text>
<rect x="1683" y="38" width="41" height="11" fill="#ff0000"/>
<text x="1687" y="47" font-family='"Liberation Sans", sans-serif' font-size="10" fill="#fff" letter-spacing="-0.45" shape-rendering="auto">34344.4</text>
<rect x="1683" y="63" width="41" height="11" fill="#32cd32"/>
<text x="1687" y="72" font-family='"Liberation Sans", sans-serif' font-size="10" fill="#fff" letter-spacing="-0.45" shape-rendering="auto">33929.0</text>
<rect x="1683" y="79" width="41" height="11" fill="#000000"/>
<text x="1687" y="88" font-family='"Liberation Sans", sans-serif' font-size="10" fill="#fff" letter-spacing="-0.45" shape-rendering="auto">33687.0</text>
<rect x="1683" y="101" width="41" height="11" fill="#0000ff"/>
<text x="1687" y="110" font-family='"Liberation Sans", sans-serif' font-size="10" fill="#fff" letter-spacing="-0.45" shape-rendering="auto">33307.1</text>
<rect x="1683" y="118" width="41" height="11" fill="#0000ff"/>
<text x="1687" y="127" font-family='"Liberation Sans", sans-serif' font-size="10" fill="#fff" letter-spacing="-0.45" shape-rendering="auto">33036.0</text>
<path d="M2 677h1v33h-1zM10 677h1v40h-1zM18 677h1v42h-1zM26 677h1v42h-1zM34 677h1v36h-1zM42 677h1v32h-1zM50 677h1v24h-1zM58 677h1v19h-1zM66 677h1v17h-1zM74 677h1v12h-1zM82 677h1v5h-1zM90 677h1v4h-1zM98 671h1v6h-1zM106 661h1v16h-1zM114 653h1v24h-1zM122 647h1v30h-1zM130 639h1v38h-1zM138 635h1v42h-1zM146 635h1v42h-1zM154 635h1v42h-1zM162 637h1v40h-1zM170 637h1v40h-1zM178 641h1v36h-1zM186 644h1v33h-1zM194 651h1v26h-1zM202 652h1v25h-1zM210 655h1v22h-1zM218 659h1v18h-1zM226 669h1v8h-1zM234 677h1v6h-1zM242 677h1v25h-1zM250 677h1v42h-1zM258 677h1v54h-1zM266 677h1v65h-1zM274 677h1v64h-1zM282 677h1v54h-1zM290 677h1v44h-1zM298 677h1v28h-1zM306 677h1v15h-1zM314 677h1v1h-1zM322 659h1v18h-1zM330 642h1v35h-1zM338 628h1v49h-1zM346 622h1v55h-1zM354 613h1v64h-1zM362 604h1v73h-1zM370 594h1v83h-1zM378 589h1v88h-1zM386 590h1v87h-1zM394 596h1v81h-1zM402 601h1v76h-1zM410 605h1v72h-1zM418 603h1v74h-1zM426 597h1v80h-1zM434 596h1v81h-1zM442 598h1v79h-1zM450 598h1v79h-1zM458 599h1v78h-1zM466 603h1v74h-1zM474 607h1v70h-1zM482 609h1v68h-1zM490 610h1v67h-1zM498 608h1v69h-1zM506 608h1v69h-1zM514 611h1v66h-1zM522 611h1v66h-1zM530 614h1v63h-1zM538 617h1v60h-1zM546 620h1v57h-1zM554 622h1v55h-1zM562 627h1v50h-1zM570 629h1v48h-1zM578 632h1v45h-1zM586 633h1v44h-1zM594 635h1v42h-1zM602 637h1v40h-1zM610 640h1v37h-1zM618 644h1v33h-1zM626 646h1v31h-1zM634 648h1v29h-1zM642 649h1v28h-1zM650 647h1v30h-1zM658 648h1v29h-1zM666 647h1v30h-1zM674 645h1v32h-1zM682 644h1v33h-1zM690 649h1v28h-1zM698 651h1v26h-1zM706 645h1v32h-1zM714 639h1v38h-1zM722 634h1v43h-1zM730 631h1v46h-1zM738 630h1v47h-1zM746 629h1v48h-1zM754 628h1v49h-1zM762 629h1v48h-1zM770 634h1v43h-1zM778 639h1v38h-1zM786 641h1v36h-1zM794 641h1v36h-1zM802 639h1v38h-1zM810 639h1v38h-1zM818 641h1v36h-1zM826 642h1v35h-1zM834 645h1v32h-1zM842 648h1v29h-1zM850 662h1v15h-1zM858 667h1v10h-1zM866 677h1v3h-1zM874 677h1v15h-1zM882 677h1v17h-1zM890 677h1v13h-1zM898 677h1v9h-1zM906 677h1v1h-1zM914 670h1v7h-1zM922 664h1v13h-1zM930 657h1v20h-1zM938 652h1v25h-1zM946 647h1v30h-1zM954 643h1v34h-1zM962 640h1v37h-1zM970 638h1v39h-1zM978 635h1v42h-1zM986 635h1v42h-1zM994 633h1v44h-1zM1002 635h1v42h-1zM1010 636h1v41h-1zM1018 637h1v40h-1zM1026 638h1v39h-1zM1034 639h1v38h-1zM1042 634h1v43h-1zM1050 639h1v38h-1zM1058 650h1v27h-1zM1066 656h1v21h-1zM1074 654h1v23h-1zM1082 655h1v22h-1zM1090 660h1v17h-1zM1098 668h1v9h-1zM1106 666h1v11h-1zM1114 662h1v15h-1zM1122 655h1v22h-1zM1130 651h1v26h-1zM1138 642h1v35h-1zM1146 633h1v44h-1zM1154 622h1v55h-1zM1162 613h1v64h-1zM1170 606h1v71h-1zM1178 604h1v73h-1zM1186 600h1v77h-1zM1194 600h1v77h-1zM1202 606h1v71h-1zM1210 611h1v66h-1zM1218 613h1v64h-1zM1226 620h1v57h-1zM1234 625h1v52h-1zM1242 628h1v49h-1zM1250 624h1v53h-1zM1258 624h1v53h-1zM1266 621h1v56h-1zM1274 622h1v55h-1zM1282 623h1v54h-1zM1290 622h1v55h-1zM1298 620h1v57h-1zM1306 617h1v60h-1zM1314 615h1v62h-1zM1322 615h1v62h-1zM1330 614h1v63h-1zM1338 612h1v65h-1zM1346 611h1v66h-1zM1354 611h1v66h-1zM1362 613h1v64h-1zM1370 613h1v64h-1zM1378 611h1v66h-1zM1386 608h1v69h-1zM1394 608h1v69h-1zM1402 608h1v69h-1zM1410 613h1v64h-1z" fill="#c0c0c0"/>
<polyline points="2,682.1 10,687.0 18,692.1 26,697.3 34,701.6 42,705.1 50,707.4 58,708.0 66,707.7 74,705.4 82,701.4 90,697.2 98,692.0 106,686.4 114,680.2 122,674.3 130,668.0 138,661.6 146,655.8 154,650.8 162,646.0 170,642.2 178,640.0 186,639.0 194,639.4 202,640.9 210,643.2 218,645.8 226,649.5 234,654.6 242,661.7 250,670.1 258,679.6 266,689.6 274,699.4 282,707.7 290,714.5 298,718.4 306,719.4 314,716.8 322,710.3 330,700.5 338,688.0 346,674.9 354,661.8 362,648.9 370,636.7 378,625.3 386,615.6 394,608.6 402,604.1 410,601.6 418,599.4 426,597.7 434,596.8 442,597.3 450,598.3 458,599.3 466,600.0 474,600.6 482,601.0 490,601.7 498,603.0 506,604.2 514,605.7 522,607.2 530,608.9 538,610.5 546,612.0 554,613.5 562,615.4 570,617.7 578,620.3 586,622.7 594,625.3 602,627.8 610,630.3 618,632.9 626,635.6 634,638.0 642,640.2 650,642.0 658,643.7 666,645.1 674,646.1 682,646.6 690,647.1 698,647.6 706,647.3 714,646.1 722,644.6 730,642.7 738,640.8 746,639.0 754,637.2 762,635.1 770,633.3 778,632.5 786,632.7 794,633.6 802,634.5 810,635.5 818,636.8 826,638.3 834,640.1 842,641.7 850,644.3 858,647.2 866,651.4 874,657.1 882,663.2 890,668.5 898,673.2 906,676.7 914,679.1 922,679.4 930,678.3 938,675.3 946,670.4 954,664.9 962,659.5 970,654.3 978,649.6 986,645.8 994,642.3 1002,639.8 1010,638.1 1018,637.0 1026,636.4 1034,636.3 1042,635.8 1050,636.2 1058,637.9 1066,640.4 1074,642.6 1082,644.7 1090,647.2 1098,650.6 1106,653.5 1114,656.6 1122,658.4 1130,658.5 1138,657.0 1146,654.6 1154,650.9 1162,645.6 1170,638.7 1178,631.9 1186,625.1 1194,619.0 1202,613.9 1210,610.4 1218,608.2 1226,608.0 1234,609.4 1242,611.8 1250,614.0 1258,616.7 1266,619.0 1274,620.8 1282,622.1 1290,623.2 1298,623.3 1306,622.4 1314,621.0 1322,619.9 1330,618.9 1338,617.8 1346,616.7 1354,615.3 1362,614.3 1370,613.5 1378,612.9 1386,612.1 1394,611.3 1402,610.6 1410,610.8" fill="none" stroke="#ff0000" stroke-width="1" stroke-dasharray="3,3"/>
<g fill="#000">
<rect x="1682" y="581" width="2" height="1"/>
<rect x="1682" y="677" width="2" height="1"/>
<rect x="1682" y="748" width="2" height="1"/>
</g>
<g font-family='"Liberation Sans", sans-serif' font-size="10" fill="#000" letter-spacing="-0.45" shape-rendering="auto">
<text x="1686" y="590">565.66</text>
<text x="1686" y="681">0.00</text>
<text x="1686" y="746">-419.33</text>
<text x="-1" y="591" letter-spacing="-0.25">MACD(12,26,9) 376.74 390.09</text>
</g>
<g fill="#c0c0c0">
<path d="M0 787.5H1681" stroke="#c0c0c0" stroke-dasharray="3,3" fill="none"/>
<path d="M0 838.5H1681" stroke="#c0c0c0" stroke-dasharray="3,3" fill="none"/>
<path d="M0 899.5H1681" stroke="#c0c0c0" stroke-dasharray="3,3" fill="none"/>
</g>
<polyline points="2,869.9 10,861.0 18,853.6 26,851.7 34,838.5 42,842.2 50,832.9 58,835.5 66,839.2 74,833.5 82,827.2 90,838.0 98,824.0 106,820.0 114,818.4 122,819.6 130,813.6 138,819.4 146,825.2 154,825.1 162,826.5 170,823.7 178,834.1 186,832.1 194,842.2 202,832.3 210,836.3 218,838.7 226,854.1 234,861.4 242,873.1 250,875.4 258,873.9 266,876.5 274,855.1 282,838.2 290,835.2 298,824.3 306,824.3 314,819.7 322,810.3 330,807.1 338,807.1 346,815.8 354,809.7 362,806.5 370,802.9 378,807.4 386,818.4 394,824.6 402,825.4 410,823.4 418,814.1 426,808.1 434,815.2 442,817.8 450,815.1 458,815.3 466,821.1 474,820.7 482,817.8 490,815.1 498,810.6 506,809.5 514,819.8 522,814.2 530,819.4 538,820.1 546,820.7 554,816.7 562,828.1 570,822.2 578,824.0 586,820.1 594,823.0 602,822.3 610,826.7 618,832.8 626,828.3 634,827.0 642,824.6 650,816.0 658,823.3 666,819.1 674,814.1 682,812.9 690,836.7 698,830.0 706,812.8 714,807.9 722,806.4 730,812.6 738,812.2 746,810.5 754,810.5 762,814.0 770,830.1 778,829.9 786,824.6 794,819.5 802,811.9 810,816.5 818,824.3 826,821.9 834,830.0 842,829.3 850,863.4 858,844.4 866,859.7 874,863.2 882,847.5 890,834.9 898,833.7 906,826.6 914,823.9 922,824.3 930,819.4 938,819.3 946,817.5 954,817.3 962,816.1 970,815.7 978,811.5 986,819.3 994,814.2 1002,822.6 1010,822.7 1018,820.9 1026,819.5 1034,821.6 1042,804.5 1050,835.5 1058,848.9 1066,841.0 1074,828.8 1082,832.8 1090,841.4 1098,848.3 1106,831.9 1114,828.6 1122,822.3 1130,825.2 1138,816.1 1146,812.3 1154,807.7 1162,806.2 1170,806.2 1178,812.9 1186,807.8 1194,815.5 1202,825.2 1210,825.9 1218,820.7 1226,832.5 1234,830.9 1242,826.8 1250,816.7 1258,820.2 1266,815.9 1274,820.7 1282,821.0 1290,817.9 1298,813.6 1306,809.2 1314,811.6 1322,811.6 1330,809.5 1338,805.1 1346,805.3 1354,805.2 1362,811.3 1370,807.3 1378,801.2 1386,797.5 1394,803.1 1402,801.6 1410,821.7" fill="none" stroke="#1e90ff" stroke-width="1" shape-rendering="auto"/>
<g fill="#000">
<rect x="1682" y="753" width="2" height="1"/>
<rect x="1682" y="787" width="2" height="1"/>
<rect x="1682" y="838" width="2" height="1"/>
<rect x="1682" y="899" width="2" height="1"/>
<rect x="1682" y="923" width="2" height="1"/>
</g>
<g font-family='"Liberation Sans", sans-serif' font-size="10" fill="#000" letter-spacing="-0.45" shape-rendering="auto">
<text x="1686" y="762">100</text>
<text x="1686" y="791">80</text>
<text x="1686" y="842">50</text>
<text x="1686" y="902">15</text>
<text x="1686" y="922">0</text>
<text x="-1" y="765" letter-spacing="-0.35">RSI(14) 60.1681</text>
</g>
<g fill="#000">
<rect x="58" y="926" width="1" height="4"/>
<rect x="122" y="926" width="1" height="4"/>
<rect x="186" y="926" width="1" height="4"/>
<rect x="250" y="926" width="1" height="4"/>
<rect x="314" y="926" width="1" height="4"/>
<rect x="378" y="926" width="1" height="4"/>
<rect x="442" y="926" width="1" height="4"/>
<rect x="506" y="926" width="1" height="4"/>
<rect x="570" y="926" width="1" height="4"/>
<rect x="634" y="926" width="1" height="4"/>
<rect x="698" y="926" width="1" height="4"/>
<rect x="762" y="926" width="1" height="4"/>
<rect x="826" y="926" width="1" height="4"/>
<rect x="890" y="926" width="1" height="4"/>
<rect x="954" y="926" width="1" height="4"/>
<rect x="1018" y="926" width="1" height="4"/>
<rect x="1082" y="926" width="1" height="4"/>
<rect x="1146" y="926" width="1" height="4"/>
<rect x="1210" y="926" width="1" height="4"/>
<rect x="1274" y="926" width="1" height="4"/>
<rect x="1338" y="926" width="1" height="4"/>
<rect x="1402" y="926" width="1" height="4"/>
</g>
<g font-family='"Liberation Sans", sans-serif' font-size="10" fill="#000" letter-spacing="-0.3" shape-rendering="auto">
<text x="-2" y="939">2 Sep 2020</text>
<text x="57" y="939">1 Oct 2020</text>
<text x="121" y="939">11 Oct 2020</text>
<text x="185" y="939">20 Oct 2020</text>
<text x="249" y="939">29 Oct 2020</text>
<text x="313" y="939">8 Nov 2020</text>
<text x="377" y="939">17 Nov 2020</text>
<text x="441" y="939">26 Nov 2020</text>
<text x="505" y="939">6 Dec 2020</text>
<text x="569" y="939">15 Dec 2020</text>
<text x="633" y="939">24 Dec 2020</text>
<text x="697" y="939">5 Jan 2021</text>
<text x="761" y="939">14 Jan 2021</text>
<text x="825" y="939">24 Jan 2021</text>
<text x="889" y="939">2 Feb 2021</text>
<text x="953" y="939">11 Feb 2021</text>
<text x="1017" y="939">21 Feb 2021</text>
<text x="1081" y="939">2 Mar 2021</text>
<text x="1145" y="939">11 Mar 2021</text>
<text x="1209" y="939">21 Mar 2021</text>
<text x="1273" y="939">30 Mar 2021</text>
<text x="1337" y="939">9 Apr 2021</text>
<text x="1401" y="939">19 Apr 2021</text>
</g>
<path d="M0 31l4 4h-4z" fill="#000"/>
<text x="9" y="36" font-family='"Liberation Sans", sans-serif' font-size="10" fill="#000" letter-spacing="-0.3" shape-rendering="auto">DJ30-,Daily</text>
<text x="64" y="36" font-family='"Liberation Sans", sans-serif' font-size="10" fill="#000" letter-spacing="-0.3" shape-rendering="auto">34034.0 34063.0 33570.0 33687.0</text>
<g shape-rendering="crispEdges"><rect x="803.5" y="330.5" width="61" height="18" fill="#fff" stroke="#ff0000" stroke-width="1"/><rect x="865" y="339" width="10" height="1" fill="#ff0000"/><text x="805.5" y="346" font-family='"Liberation Sans", sans-serif' font-size="16" fill="#ff0000" shape-rendering="auto">29522.2</text><rect x="971.5" y="177.5" width="61" height="18" fill="#fff" stroke="#ff0000" stroke-width="1"/><rect x="1033" y="186" width="10" height="1" fill="#ff0000"/><text x="973.5" y="193" font-family='"Liberation Sans", sans-serif' font-size="16" fill="#ff0000" shape-rendering="auto">32020.0</text><rect x="1027.5" y="270.5" width="61" height="18" fill="#fff" stroke="#ff0000" stroke-width="1"/><rect x="1089" y="279" width="10" height="1" fill="#ff0000"/><text x="1029.5" y="286" font-family='"Liberation Sans", sans-serif' font-size="16" fill="#ff0000" shape-rendering="auto">30506.5</text><rect x="1123.5" y="110.5" width="61" height="18" fill="#fff" stroke="#ff0000" stroke-width="1"/><rect x="1185" y="119" width="10" height="1" fill="#ff0000"/><text x="1125.5" y="126" font-family='"Liberation Sans", sans-serif' font-size="16" fill="#ff0000" shape-rendering="auto">33121.4</text><rect x="1171.5" y="182.5" width="61" height="18" fill="#fff" stroke="#ff0000" stroke-width="1"/><rect x="1233" y="191" width="10" height="1" fill="#ff0000"/><text x="1173.5" y="198" font-family='"Liberation Sans", sans-serif' font-size="16" fill="#ff0000" shape-rendering="auto">31950.3</text><rect x="1219.5" y="60.5" width="61" height="18" fill="#fff" stroke="#ff0000" stroke-width="1"/><rect x="1281" y="69" width="11" height="1" fill="#ff0000"/><text x="1221.5" y="76" font-family='"Liberation Sans", sans-serif' font-size="16" fill="#ff0000" shape-rendering="auto">33929.0</text></g><rect x="1321" y="68" width="149" height="7" fill="#00ff00"/><g shape-rendering="crispEdges"><path d="M1090 262.5L1200 121.5" stroke="#ff0000" stroke-width="3.4" fill="none" stroke-linecap="butt"/><path d="M1200.0 121.5L1197.2 133.2L1189.3 127.1z" fill="#ff0000"/><path d="M1200 121.5L1237 183.5" stroke="#ff0000" stroke-width="3.4" fill="none" stroke-linecap="butt"/><path d="M1237.0 183.5L1227.1 176.6L1235.7 171.5z" fill="#ff0000"/><path d="M1237 183.5L1403 45" stroke="#ff0000" stroke-width="3.4" fill="none" stroke-linecap="butt"/><path d="M1403.0 45.0L1397.8 55.9L1391.4 48.2z" fill="#ff0000"/><path d="M1405.5 51.5L1423.5 96.5" stroke="#ff0000" stroke-width="3.4" fill="none" stroke-linecap="butt"/><path d="M1423.5 96.5L1414.8 88.1L1424.1 84.4z" fill="#ff0000"/></g><g fill="none" stroke="#00ff00" stroke-width="1.11" stroke-linecap="square" stroke-linejoin="miter" shape-rendering="auto"><g transform="translate(1452.00,93.00) scale(0.950)"><polyline points="9,1 4,6"/><polyline points="6,3 14,3 3,11"/><polyline points="7,5 10,7"/><polyline points="11,9 5,14"/><polyline points="8,11 17,11 3,19"/><polyline points="9,13 12,15"/></g><g transform="translate(1474.00,93.00) scale(0.950)"><polyline points="10,0 10,2"/><polyline points="2,6 2,3 18,3 18,6"/><polyline points="7,5 4,9"/><polyline points="12,5 16,9"/><polyline points="5,11 15,11"/><polyline points="10,11 10,18"/><polyline points="2,18 18,18"/></g><g transform="translate(1496.00,93.00) scale(0.950)"><polyline points="1,4 8,4"/><polyline points="5,1 2,10 8,10"/><polyline points="5,6 5,19"/><polyline points="0,14 8,13"/><polyline points="10,4 19,4"/><polyline points="14,1 12,9"/><polyline points="9,8 20,8"/><polyline points="11,11 18,11 13,16"/><polyline points="13,15 18,19"/></g><g transform="translate(1518.00,93.00) scale(0.950)"><polyline points="0,6 7,6"/><polyline points="4,1 4,19 2,18"/><polyline points="0,14 7,11"/><polyline points="18,1 10,3 10,12 8,19"/><polyline points="10,8 19,8"/><polyline points="15,8 15,19"/></g><g transform="translate(1540.00,93.00) scale(0.950)"><polyline points="8,0 8,8"/><polyline points="8,4 16,4"/><polyline points="4,8 16,8 16,13 4,13 4,8"/><polyline points="3,16 2,19"/><polyline points="8,16 9,19"/><polyline points="12,16 13,19"/><polyline points="16,15 18,19"/></g></g>
<defs>
<linearGradient id="gTop" x1="0" y1="0" x2="0" y2="1"><stop offset="0" stop-color="#f45656"/><stop offset="1" stop-color="#e23434"/></linearGradient>
<linearGradient id="gBot" x1="0" y1="0" x2="0" y2="1"><stop offset="0" stop-color="#e23030"/><stop offset="1" stop-color="#ae0000"/></linearGradient>
<linearGradient id="gBtn" x1="0" y1="0" x2="0" y2="1"><stop offset="0" stop-color="#f0f0f0"/><stop offset="0.5" stop-color="#e4e4e4"/><stop offset="1" stop-color="#d4d4d4"/></linearGradient>
</defs><rect x="0" y="44" width="218" height="65" fill="#fff"/><rect x="0" y="44" width="49" height="25" fill="url(#gTop)"/><rect x="0" y="68" width="106" height="40" fill="url(#gBot)"/><rect x="164" y="44" width="52" height="25" fill="url(#gTop)"/><rect x="108" y="68" width="108" height="40" fill="url(#gBot)"/><path d="M0 44.5H48.5V68.5H105.5V107.5H0" fill="none" stroke="#c01010" stroke-width="1"/><path d="M108.5 107.5V68.5H164.5V44.5H215.5V107.5z" fill="none" stroke="#c01010" stroke-width="1"/><rect x="1" y="67" width="44" height="1" fill="#900000"/><rect x="1" y="68" width="44" height="1" fill="#f06060"/><rect x="168" y="67" width="44" height="1" fill="#900000"/><rect x="168" y="68" width="44" height="1" fill="#f06060"/><rect x="51.5" y="44.5" width="110" height="21" fill="#fff" stroke="#a8a8a8"/><rect x="52" y="45" width="20" height="20" fill="url(#gBtn)"/><rect x="72" y="45" width="1" height="20" fill="#b0b0b0"/><rect x="141" y="45" width="20" height="20" fill="url(#gBtn)"/><rect x="140" y="45" width="1" height="20" fill="#b0b0b0"/><path d="M58.5 53h6l-3 3z" fill="#5060c0" shape-rendering="auto"/><path d="M147.5 56h6l-3-3z" fill="#5060c0" shape-rendering="auto"/><text x="137" y="59" text-anchor="end" font-family='"Liberation Sans", sans-serif' font-size="12.5" fill="#000" shape-rendering="auto">1.00</text><g font-family='"Liberation Sans", sans-serif' fill="#fff" shape-rendering="auto"><text x="9" y="60" font-size="11.6" letter-spacing="-0.3">SELL</text><text x="177" y="60" font-size="11.6" letter-spacing="0">BUY</text><text x="13" y="99" font-size="12" font-weight="bold" letter-spacing="0.4">33685</text><text x="123" y="99" font-size="12" font-weight="bold" letter-spacing="0.4">33694</text><circle cx="54.6" cy="97" r="2.1"/><circle cx="165.3" cy="97" r="2.1"/><path d="M62.3 76.2H73.7M62.7 75.5L62.1 87.2C64.0 86.2 66.0 85.6 67.7 85.6C71.8 85.6 74.1 88.3 74.1 92.2C74.1 96.3 71.3 98.7 67.3 98.7C64.9 98.7 62.9 98.1 61.1 97" fill="none" stroke="#fff" stroke-width="2.3"/><path d="M172.8 76.2H184.2M173.2 75.5L172.6 87.2C174.5 86.2 176.5 85.6 178.2 85.6C182.3 85.6 184.6 88.3 184.6 92.2C184.6 96.3 181.8 98.7 177.8 98.7C175.4 98.7 173.4 98.1 171.6 97" fill="none" stroke="#fff" stroke-width="2.3"/></g>
</svg>
</body></html>
